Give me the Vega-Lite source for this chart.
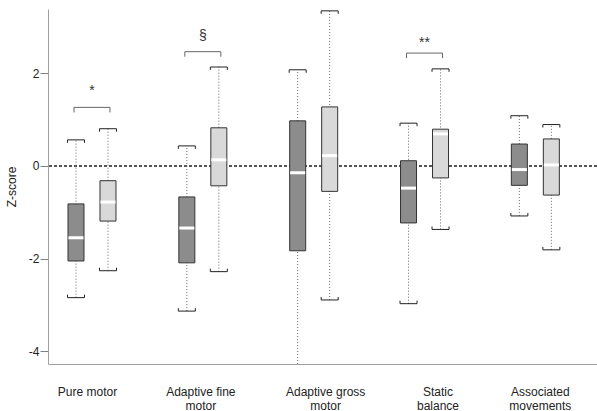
{
  "$schema": "https://vega.github.io/schema/vega-lite/v6.json",
  "width": 549,
  "height": 355,
  "autosize": {"type": "none"},
  "padding": {"left": 48, "top": 9, "right": 0, "bottom": 47},
  "background": "white",
  "config": {
    "view": {"stroke": null},
    "font": "Liberation Sans",
    "axis": {"labelFont": "Liberation Sans", "titleFont": "Liberation Sans", "labelFontSize": 12, "titleFontSize": 12, "titleFontWeight": "normal", "labelColor": "#222", "titleColor": "#222", "grid": false}
  },
  "datasets": {
    "boxes": [
      {"cat": "Pure motor", "group": "A", "lower": -2.84, "q1": -2.05, "median": -1.55, "q3": -0.82, "upper": 0.56},
      {"cat": "Pure motor", "group": "B", "lower": -2.26, "q1": -1.19, "median": -0.78, "q3": -0.32, "upper": 0.80},
      {"cat": "Adaptive fine motor", "group": "A", "lower": -3.13, "q1": -2.09, "median": -1.34, "q3": -0.67, "upper": 0.43},
      {"cat": "Adaptive fine motor", "group": "B", "lower": -2.28, "q1": -0.43, "median": 0.13, "q3": 0.82, "upper": 2.13},
      {"cat": "Adaptive gross motor", "group": "A", "lower": -4.4, "q1": -1.83, "median": -0.15, "q3": 0.97, "upper": 2.07},
      {"cat": "Adaptive gross motor", "group": "B", "lower": -2.89, "q1": -0.55, "median": 0.22, "q3": 1.27, "upper": 3.34},
      {"cat": "Static balance", "group": "A", "lower": -2.97, "q1": -1.23, "median": -0.48, "q3": 0.11, "upper": 0.92},
      {"cat": "Static balance", "group": "B", "lower": -1.37, "q1": -0.26, "median": 0.69, "q3": 0.79, "upper": 2.09},
      {"cat": "Associated movements", "group": "A", "lower": -1.08, "q1": -0.42, "median": -0.08, "q3": 0.47, "upper": 1.08},
      {"cat": "Associated movements", "group": "B", "lower": -1.81, "q1": -0.63, "median": 0.02, "q3": 0.58, "upper": 0.89}
    ],
    "sig": [
      {"cat": "Pure motor", "label": "*", "labelY": 1.52, "bracketY": 1.26},
      {"cat": "Adaptive fine motor", "label": "§", "labelY": 2.71, "bracketY": 2.46},
      {"cat": "Static balance", "label": "**", "labelY": 2.56, "bracketY": 2.43}
    ]
  },
  "resolve": {"scale": {"x": "shared", "y": "shared"}},
  "layer": [
    {
      "data": {"name": "boxes"},
      "mark": {"type": "rule", "color": "#555", "strokeWidth": 1, "strokeDash": [3, 2]},
      "encoding": {
        "y": {"datum": 0, "type": "quantitative", "scale": {"domain": [-4.27, 3.38], "nice": false, "zero": false}}
      }
    },
    {
      "data": {"name": "boxes"},
      "mark": {"type": "rule", "color": "#666", "strokeWidth": 1, "strokeDash": [1, 2], "clip": true},
      "encoding": {
        "x": {"field": "cat", "type": "nominal", "sort": null,
              "scale": {"type": "band", "paddingInner": 0.4226, "paddingOuter": 0.1878, "align": 0.288, "round": false},
              "axis": {"title": null, "ticks": false, "domainColor": "#a0a0a0", "labelAngle": 0, "labelPadding": 22, "labelLineHeight": 14, "labelBaseline": "top",
                       "labelExpr": "datum.value == 'Adaptive fine motor' ? ['Adaptive fine', 'motor'] : datum.value == 'Adaptive gross motor' ? ['Adaptive gross', 'motor'] : datum.value == 'Static balance' ? ['Static', 'balance'] : datum.value == 'Associated movements' ? ['Associated', 'movements'] : datum.value",
                       "encoding": {"labels": {"dx": {"value": {"expr": "datum.value == 'Pure motor' ? -4.5 : datum.value == 'Adaptive fine motor' ? -2 : datum.value == 'Adaptive gross motor' ? 12 : datum.value == 'Static balance' ? 13.5 : 5"}}}}}},
        "xOffset": {"field": "group", "type": "nominal", "scale": {"paddingInner": 0.5, "paddingOuter": 0.25}},
        "y": {"field": "lower", "type": "quantitative",
              "axis": {"title": "Z-score", "values": [-4, -2, 0, 2], "labelExpr": "toString(datum.value)", "domainColor": "#a0a0a0", "tickColor": "#808080", "tickSize": 8, "labelPadding": 1, "titlePadding": 10}},
        "y2": {"field": "upper"}
      }
    },
    {
      "data": {"name": "boxes"},
      "mark": {"type": "bar", "stroke": "#333", "strokeWidth": 1},
      "encoding": {
        "x": {"field": "cat", "type": "nominal", "sort": null},
        "xOffset": {"field": "group", "type": "nominal"},
        "y": {"field": "q3", "type": "quantitative"},
        "y2": {"field": "q1"},
        "fill": {"field": "group", "type": "nominal", "scale": {"domain": ["A", "B"], "range": ["#8c8c8c", "#d9d9d9"]}, "legend": null}
      }
    },
    {
      "data": {"name": "boxes"},
      "mark": {"type": "tick", "color": "white", "thickness": 3, "size": 15, "opacity": 1},
      "encoding": {
        "x": {"field": "cat", "type": "nominal", "sort": null},
        "xOffset": {"field": "group", "type": "nominal"},
        "y": {"field": "median", "type": "quantitative"}
      }
    },
    {
      "data": {"name": "boxes"},
      "mark": {"type": "point", "shape": "M-1,0.35L-1,0L1,0L1,0.35", "size": 289, "filled": false, "stroke": "#222", "strokeWidth": 1, "opacity": 1, "clip": true},
      "encoding": {
        "x": {"field": "cat", "type": "nominal", "sort": null},
        "xOffset": {"field": "group", "type": "nominal"},
        "y": {"field": "upper", "type": "quantitative"}
      }
    },
    {
      "data": {"name": "boxes"},
      "mark": {"type": "point", "shape": "M-1,-0.35L-1,0L1,0L1,-0.35", "size": 289, "filled": false, "stroke": "#222", "strokeWidth": 1, "opacity": 1, "clip": true},
      "encoding": {
        "x": {"field": "cat", "type": "nominal", "sort": null},
        "xOffset": {"field": "group", "type": "nominal"},
        "y": {"field": "lower", "type": "quantitative"}
      }
    },
    {
      "data": {"name": "sig"},
      "mark": {"type": "point", "shape": "M-1,0.28L-1,0L1,0L1,0.28", "size": 1296, "filled": false, "stroke": "#666", "strokeWidth": 1, "opacity": 1},
      "encoding": {
        "x": {"field": "cat", "type": "nominal", "sort": null},
        "y": {"field": "bracketY", "type": "quantitative"}
      }
    },
    {
      "data": {"name": "sig"},
      "mark": {"type": "text", "fontSize": 14, "color": "#333", "baseline": "alphabetic", "align": "center"},
      "encoding": {
        "x": {"field": "cat", "type": "nominal", "sort": null},
        "y": {"field": "labelY", "type": "quantitative"},
        "text": {"field": "label"}
      }
    }
  ]
}
